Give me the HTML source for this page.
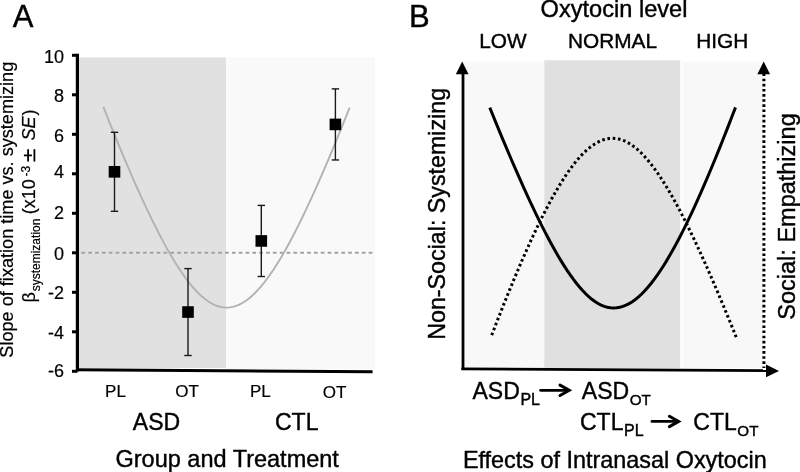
<!DOCTYPE html>
<html><head><meta charset="utf-8"><style>
html,body{margin:0;padding:0;background:#fff;}
svg{display:block;filter:grayscale(1) blur(0.35px);}
text{font-family:"Liberation Sans",sans-serif;fill:#000;stroke:#000;stroke-width:0.2px;}
text.b{stroke-width:0.4px;}
</style></head><body>
<svg width="800" height="472" viewBox="0 0 800 472">
<rect x="0" y="0" width="800" height="472" fill="#ffffff"/>
<rect x="79" y="57.4" width="147" height="310.6" fill="#e1e1e1"/>
<rect x="226" y="57.4" width="148.9" height="312" fill="#f9f9f9"/>
<rect x="226.2" y="57.6" width="4.6" height="311" fill="#fbfbfb"/>
<line x1="79" y1="252.80" x2="373" y2="252.80" stroke="#a2a2a2" stroke-width="1.9" stroke-dasharray="3.7 3.14" stroke-dashoffset="4.44"/>
<polyline points="103.30,106.88 106.38,114.62 109.47,122.30 112.55,129.91 115.63,137.46 118.71,144.93 121.80,152.33 124.88,159.64 127.96,166.88 131.04,174.02 134.12,181.06 137.21,188.01 140.29,194.84 143.37,201.57 146.45,208.17 149.54,214.65 152.62,220.99 155.70,227.19 158.78,233.24 161.87,239.13 164.95,244.85 168.03,250.39 171.12,255.74 174.20,260.90 177.28,265.85 180.36,270.57 183.44,275.07 186.53,279.32 189.61,283.31 192.69,287.04 195.77,290.49 198.86,293.66 201.94,296.52 205.02,299.07 208.11,301.31 211.19,303.21 214.27,304.78 217.35,306.01 220.44,306.89 223.52,307.42 226.60,307.60 229.75,307.41 232.91,306.86 236.06,305.94 239.22,304.65 242.37,303.01 245.52,301.02 248.68,298.68 251.83,296.01 254.98,293.02 258.14,289.72 261.29,286.12 264.45,282.23 267.60,278.06 270.75,273.64 273.91,268.96 277.06,264.04 280.22,258.90 283.37,253.54 286.52,247.97 289.68,242.22 292.83,236.28 295.98,230.18 299.14,223.91 302.29,217.48 305.45,210.91 308.60,204.21 311.75,197.38 314.91,190.42 318.06,183.36 321.22,176.18 324.37,168.90 327.52,161.53 330.68,154.06 333.83,146.51 336.98,138.88 340.14,131.17 343.29,123.39 346.45,115.55 349.60,107.63" fill="none" stroke="#b2b2b2" stroke-width="1.9"/>
<line x1="114.5" y1="132.32" x2="114.5" y2="211.32" stroke="#1a1a1a" stroke-width="1.4"/>
<line x1="110.8" y1="211.32" x2="118.2" y2="211.32" stroke="#1a1a1a" stroke-width="1.4"/>
<line x1="110.8" y1="132.32" x2="118.2" y2="132.32" stroke="#1a1a1a" stroke-width="1.4"/>
<rect x="108.7" y="166.02" width="11.6" height="11.6" fill="#000"/>
<line x1="188.0" y1="268.60" x2="188.0" y2="355.50" stroke="#1a1a1a" stroke-width="1.4"/>
<line x1="184.3" y1="355.50" x2="191.7" y2="355.50" stroke="#1a1a1a" stroke-width="1.4"/>
<line x1="184.3" y1="268.60" x2="191.7" y2="268.60" stroke="#1a1a1a" stroke-width="1.4"/>
<rect x="182.2" y="306.25" width="11.6" height="11.6" fill="#000"/>
<line x1="261.3" y1="205.40" x2="261.3" y2="276.50" stroke="#1a1a1a" stroke-width="1.4"/>
<line x1="257.6" y1="276.50" x2="265.0" y2="276.50" stroke="#1a1a1a" stroke-width="1.4"/>
<line x1="257.6" y1="205.40" x2="265.0" y2="205.40" stroke="#1a1a1a" stroke-width="1.4"/>
<rect x="255.5" y="235.15" width="11.6" height="11.6" fill="#000"/>
<line x1="335.4" y1="88.87" x2="335.4" y2="159.97" stroke="#1a1a1a" stroke-width="1.4"/>
<line x1="331.7" y1="159.97" x2="339.09999999999997" y2="159.97" stroke="#1a1a1a" stroke-width="1.4"/>
<line x1="331.7" y1="88.87" x2="339.09999999999997" y2="88.87" stroke="#1a1a1a" stroke-width="1.4"/>
<rect x="329.59999999999997" y="118.62" width="11.6" height="11.6" fill="#000"/>
<line x1="77.4" y1="53.8" x2="77.4" y2="371.5" stroke="#000" stroke-width="3.2"/>
<line x1="72" y1="371.30" x2="77.4" y2="371.30" stroke="#000" stroke-width="3"/>
<text x="64.0" y="377.00" font-size="18" text-anchor="end">-6</text>
<line x1="72" y1="331.80" x2="77.4" y2="331.80" stroke="#000" stroke-width="3"/>
<text x="64.0" y="338.90" font-size="18" text-anchor="end">-4</text>
<line x1="72" y1="292.30" x2="77.4" y2="292.30" stroke="#000" stroke-width="3"/>
<text x="64.0" y="299.10" font-size="18" text-anchor="end">-2</text>
<line x1="72" y1="252.80" x2="77.4" y2="252.80" stroke="#000" stroke-width="3"/>
<text x="64.0" y="259.60" font-size="18" text-anchor="end">0</text>
<line x1="72" y1="213.30" x2="77.4" y2="213.30" stroke="#000" stroke-width="3"/>
<text x="64.0" y="219.20" font-size="18" text-anchor="end">2</text>
<line x1="72" y1="173.80" x2="77.4" y2="173.80" stroke="#000" stroke-width="3"/>
<text x="64.0" y="177.85" font-size="18" text-anchor="end">4</text>
<line x1="72" y1="134.30" x2="77.4" y2="134.30" stroke="#000" stroke-width="3"/>
<text x="64.0" y="141.90" font-size="18" text-anchor="end">6</text>
<line x1="72" y1="94.80" x2="77.4" y2="94.80" stroke="#000" stroke-width="3"/>
<text x="64.0" y="101.85" font-size="18" text-anchor="end">8</text>
<line x1="72" y1="55.30" x2="77.4" y2="55.30" stroke="#000" stroke-width="3"/>
<text x="64.0" y="63.05" font-size="18" text-anchor="end">10</text>
<line x1="76" y1="369.7" x2="372.6" y2="371.8" stroke="#000" stroke-width="3"/>
<text class="b" x="12.7" y="27.3" font-size="31">A</text>
<text x="115.5" y="396.6" font-size="17" text-anchor="middle">PL</text>
<text x="187" y="397.4" font-size="17" text-anchor="middle">OT</text>
<text x="260.3" y="397.0" font-size="17" text-anchor="middle">PL</text>
<text x="334.6" y="398.0" font-size="17" text-anchor="middle">OT</text>
<text class="b" x="156.5" y="429.8" font-size="23" text-anchor="middle">ASD</text>
<text class="b" x="296.7" y="429.8" font-size="23" text-anchor="middle">CTL</text>
<text class="b" x="227.2" y="467.3" font-size="23.5" text-anchor="middle">Group and Treatment</text>
<text transform="translate(13,209.7) rotate(-90)" font-size="18.12" text-anchor="middle">Slope of fixation time vs. systemizing</text>
<text transform="translate(35.3,302.5) rotate(-90)" font-size="18" >β</text>
<text transform="translate(39.8,291.3) rotate(-90)" font-size="12" >systemization</text>
<text transform="translate(35.3,214.2) rotate(-90)" font-size="18" >(x10</text>
<text transform="translate(30.3,176.6) rotate(-90)" font-size="12" >-3</text>
<line x1="28.1" y1="149.2" x2="28.1" y2="161.6" stroke="#000" stroke-width="1.8"/>
<line x1="34.4" y1="149.2" x2="34.4" y2="161.6" stroke="#000" stroke-width="1.8"/>
<line x1="23.9" y1="155.4" x2="31.9" y2="155.4" stroke="#000" stroke-width="1.8"/>
<text transform="translate(35.3,140.6) rotate(-90)" font-size="18" font-style="italic">SE</text>
<text transform="translate(35.3,115.5) rotate(-90)" font-size="18" >)</text>
<text class="b" x="408.9" y="26.9" font-size="31">B</text>
<text class="b" x="614" y="17.4" font-size="23.6" text-anchor="middle">Oxytocin level</text>
<text class="b" x="502.9" y="47.6" font-size="20.8" text-anchor="middle">LOW</text>
<text class="b" x="612.5" y="47.6" font-size="20.8" text-anchor="middle">NORMAL</text>
<text class="b" x="722.2" y="47.6" font-size="20.8" text-anchor="middle">HIGH</text>
<rect x="463.5" y="61.7" width="81" height="306.5" fill="#f8f8f8"/>
<rect x="544.3" y="60.2" width="136" height="308" fill="#e0e0e0"/>
<rect x="680.5" y="61.7" width="82.5" height="306.5" fill="#f8f8f8"/>
<rect x="680.3" y="61.9" width="3.4" height="306" fill="#fcfcfc"/>
<polyline points="489.80,107.67 492.89,115.29 495.99,122.86 499.08,130.37 502.17,137.82 505.26,145.20 508.36,152.51 511.45,159.74 514.54,166.90 517.63,173.97 520.73,180.95 523.82,187.84 526.91,194.63 530.00,201.32 533.10,207.89 536.19,214.34 539.28,220.66 542.37,226.85 545.47,232.89 548.56,238.79 551.65,244.52 554.74,250.08 557.84,255.46 560.93,260.64 564.02,265.62 567.11,270.39 570.21,274.93 573.30,279.23 576.39,283.27 579.48,287.06 582.58,290.56 585.67,293.78 588.76,296.69 591.85,299.29 594.95,301.57 598.04,303.52 601.13,305.12 604.22,306.38 607.32,307.28 610.41,307.82 613.50,308.00 616.63,307.82 619.76,307.29 622.88,306.41 626.01,305.18 629.14,303.60 632.27,301.69 635.40,299.45 638.53,296.87 641.65,293.99 644.78,290.79 647.91,287.30 651.04,283.52 654.17,279.46 657.29,275.13 660.42,270.54 663.55,265.71 666.68,260.64 669.81,255.35 672.94,249.84 676.06,244.12 679.19,238.21 682.32,232.11 685.45,225.84 688.58,219.39 691.71,212.79 694.83,206.03 697.96,199.13 701.09,192.10 704.22,184.93 707.35,177.64 710.47,170.23 713.60,162.71 716.73,155.09 719.86,147.36 722.99,139.54 726.12,131.63 729.24,123.63 732.37,115.55 735.50,107.40" fill="none" stroke="#000" stroke-width="3"/>
<polyline points="491.70,335.14 494.72,327.32 497.74,319.58 500.76,311.92 503.78,304.34 506.80,296.84 509.82,289.43 512.84,282.11 515.86,274.89 518.88,267.78 521.90,260.77 524.92,253.88 527.94,247.11 530.96,240.46 533.98,233.95 537.00,227.58 540.02,221.35 543.04,215.28 546.06,209.37 549.08,203.64 552.10,198.08 555.12,192.71 558.14,187.53 561.16,182.57 564.18,177.81 567.20,173.28 570.22,168.99 573.24,164.94 576.26,161.14 579.28,157.61 582.30,154.34 585.32,151.36 588.34,148.67 591.36,146.27 594.38,144.18 597.40,142.39 600.42,140.93 603.44,139.78 606.46,138.96 609.48,138.46 612.50,138.30 615.67,138.48 618.85,139.04 622.02,139.96 625.20,141.23 628.37,142.87 631.55,144.85 634.72,147.18 637.89,149.84 641.07,152.81 644.24,156.10 647.42,159.69 650.59,163.56 653.77,167.71 656.94,172.11 660.12,176.77 663.29,181.67 666.46,186.79 669.64,192.12 672.81,197.66 675.99,203.39 679.16,209.30 682.34,215.38 685.51,221.63 688.68,228.02 691.86,234.56 695.03,241.23 698.21,248.04 701.38,254.96 704.56,262.00 707.73,269.14 710.91,276.39 714.08,283.73 717.25,291.16 720.43,298.68 723.60,306.27 726.78,313.95 729.95,321.69 733.13,329.51 736.30,337.39" fill="none" stroke="#000" stroke-width="3" stroke-dasharray="2.6 2.7"/>
<line x1="463.0" y1="70" x2="463.0" y2="370" stroke="#000" stroke-width="2.8"/>
<polygon points="462.2,61.5 455.8,74.2 468.6,74.2" fill="#000"/>
<line x1="461.4" y1="368.8" x2="768" y2="370.6" stroke="#000" stroke-width="2.8"/>
<polygon points="779,370.9 766,364.6 766,377.2" fill="#000"/>
<line x1="763.9" y1="74" x2="763.9" y2="368" stroke="#000" stroke-width="3" stroke-dasharray="2.6 2.54" stroke-dashoffset="0.48"/>
<polygon points="763.7,61.5 757.3,74.2 770.1,74.2" fill="#000"/>
<text class="b" transform="translate(444.5,213.8) rotate(-90)" font-size="23.25" text-anchor="middle">Non-Social: Systemizing</text>
<text class="b" transform="translate(794.8,216.5) rotate(-90)" font-size="23.5" text-anchor="middle">Social: Empathizing</text>
<text class="b" x="472.5" y="399.2" font-size="23">ASD<tspan font-size="16" dx="0.6" dy="6.1">PL</tspan></text>
<line x1="540.6" y1="390.3" x2="568.7" y2="390.3" stroke="#000" stroke-width="2.8" stroke-linecap="round"/><polyline points="560.0,385.1 569.2,390.3 560.0,395.5" fill="none" stroke="#000" stroke-width="3" stroke-linejoin="miter" stroke-linecap="round"/>
<text class="b" x="581.8" y="399.2" font-size="23">ASD<tspan font-size="15.2" dx="0.6" dy="6.1">OT</tspan></text>
<text class="b" x="580" y="430.3" font-size="23">CTL<tspan font-size="16" dx="0.6" dy="5.2">PL</tspan></text>
<line x1="652.0" y1="421.4" x2="678.1" y2="421.4" stroke="#000" stroke-width="2.8" stroke-linecap="round"/><polyline points="669.4,416.2 678.6,421.4 669.4,426.59999999999997" fill="none" stroke="#000" stroke-width="3" stroke-linejoin="miter" stroke-linecap="round"/>
<text class="b" x="693.3" y="430.3" font-size="23">CTL<tspan font-size="15.2" dx="0.6" dy="5.2">OT</tspan></text>
<text class="b" x="614.8" y="467.5" font-size="23.4" text-anchor="middle">Effects of Intranasal Oxytocin</text>
</svg>
</body></html>
